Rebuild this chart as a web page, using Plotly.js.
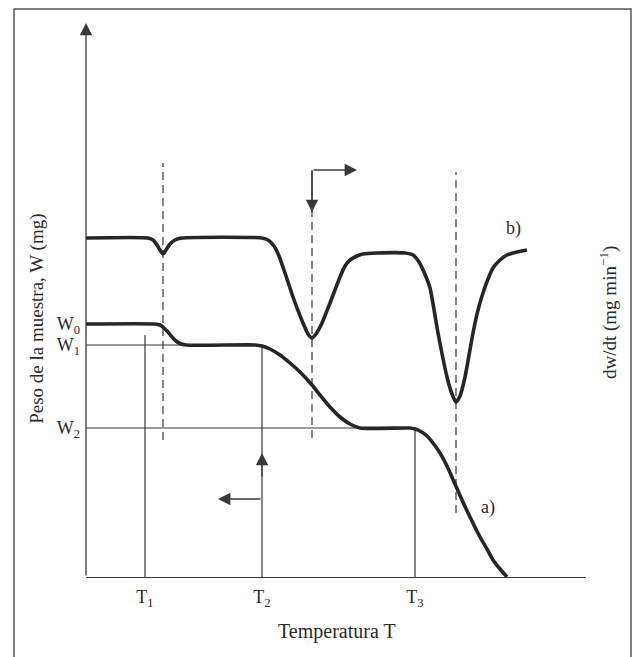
<!DOCTYPE html>
<html>
<head>
<meta charset="utf-8">
<script src="https://cdn.plot.ly/plotly-3.0.1.min.js"></script>
<style>
  html, body { margin: 0; padding: 0; background: #ffffff; }
  #chart { width: 636px; height: 657px; }
</style>
</head>
<body>
<div id="chart"></div>
<script>
// ---- Data (arbitrary units) ----
// Curve a) : sample weight vs temperature (TGA)
const tempA = [0, 13.8, 14.8, 15.6, 16.4, 17.2, 18, 18.8, 20, 33.8, 35.2, 36.8, 38.8, 40.8, 42.8, 45.2, 46.8, 48.8, 50.8, 52.8, 54.8, 64.8, 65.8, 66.8, 68.2, 69.4, 70.8, 72.2, 73.8, 75.2, 76.8, 78.8, 80.2, 81.4, 82.8, 84.2];
const weightA = [50.6, 50.6, 50.4, 49.8, 49, 48, 47.2, 46.7, 46.4, 46.4, 46.2, 45.6, 44.4, 42.8, 41, 38.4, 36.4, 34, 32, 30.6, 29.8, 29.8, 29.6, 29.2, 28.2, 26.8, 24.8, 22.2, 18.6, 15.4, 12, 8, 5.6, 3.4, 1.6, 0];

// Curve b) : derivative dw/dt vs temperature (DTG)
const tempB = [0, 12.4, 13.4, 14.2, 14.8, 15.4, 16, 16.8, 17.8, 19.2, 35.2, 36.4, 37.6, 38.6, 39.6, 41.4, 43.4, 44.4, 45.2, 46, 47.2, 48.8, 50.8, 51.8, 52.8, 54.2, 55.4, 58.2, 63.8, 65.4, 66.6, 67.6, 68.8, 70.4, 72.2, 73.2, 74, 74.8, 75.8, 77.4, 78.4, 79.4, 80.4, 81.4, 82.8, 84.2, 86.2, 88.2];
const dwdtB = [67.8, 67.8, 67.4, 66.4, 65.4, 64.6, 65.4, 66.6, 67.4, 67.8, 67.8, 67.4, 66.2, 64.2, 61.4, 56, 50.8, 48.6, 47.8, 48.6, 50.8, 54.8, 60, 62.2, 63.4, 64.2, 64.6, 64.8, 64.8, 64.4, 63, 61, 57.8, 48.8, 40, 36.6, 35, 36.2, 40, 48.8, 53.4, 56.8, 59.6, 61.8, 63.4, 64.4, 65, 65.4];

// Characteristic temperatures and weights
const tickTemps = [11.8, 35.2, 65.8];
const tickTempLabels = ["T<sub>1</sub>", "T<sub>2</sub>", "T<sub>3</sub>"];
const tickWeights = [50.6, 46.4, 29.8];
const tickWeightLabels = ["W<sub>0</sub>", "W<sub>1</sub>", "W<sub>2</sub>"];
const T1top = 48.4;
// Peak temperatures of the DTG curve (dashed guides) and their extents
const peakTemps = [15.4, 45.2, 74.0];
const peakLow = [27.4, 27.8, 12.8];
const peakHigh = [82.8, 73.0, 81.0];
// Arrow markers (which axis each curve belongs to)
const arrowRightCorner = [45.2, 81.4];
const arrowRightTip = [54.2, 81.4];
const arrowLeftTipY = 24.8;
const arrowLeftBarY = 15.6;
const arrowLeftTipX = 26.4;
const yTop = 110.8;
const yTopRight = 108.6;
const xRightAxis = 100.2;

const ink = "#262626";
const thin = "#383838";
const txt = "#2a2a2a";
const serif = "Liberation Serif, Times New Roman, serif";

const traces = [];
// thin reference lines
traces.push({x: [0, tickTemps[1]], y: [tickWeights[1], tickWeights[1]], mode: "lines", line: {color: thin, width: 1.2}, hoverinfo: "skip"});
traces.push({x: [0, tickTemps[2]], y: [tickWeights[2], tickWeights[2]], mode: "lines", line: {color: thin, width: 1.2}, hoverinfo: "skip"});
traces.push({x: [tickTemps[0], tickTemps[0]], y: [0, T1top], mode: "lines", line: {color: thin, width: 1.2}, hoverinfo: "skip"});
traces.push({x: [tickTemps[1], tickTemps[1]], y: [0, tickWeights[1]], mode: "lines", line: {color: thin, width: 1.2}, hoverinfo: "skip"});
traces.push({x: [tickTemps[2], tickTemps[2]], y: [0, tickWeights[2]], mode: "lines", line: {color: thin, width: 1.2}, hoverinfo: "skip"});
// dashed peak guides
for (let i = 0; i < peakTemps.length; i++) {
  traces.push({x: [peakTemps[i], peakTemps[i]], y: [peakLow[i], peakHigh[i]], mode: "lines",
    line: {color: thin, width: 1.2, dash: "8px,5px"}, hoverinfo: "skip"});
}
// solid part of the L-shaped arrow
traces.push({x: [arrowRightCorner[0], arrowRightCorner[0]], y: [peakHigh[1], arrowRightCorner[1]], mode: "lines", line: {color: thin, width: 1.3}, hoverinfo: "skip"});
// main curves
traces.push({x: tempA, y: weightA, mode: "lines", line: {color: ink, width: 3.6, shape: "spline", smoothing: 0.6}, hoverinfo: "skip"});
traces.push({x: tempB, y: dwdtB, mode: "lines", line: {color: ink, width: 3.6, shape: "spline", smoothing: 0.6}, hoverinfo: "skip"});

function arrow(x, y, ax, ay) {
  return {x: x, y: y, ax: ax, ay: ay, xref: "x", yref: "y", axref: "x", ayref: "y",
    text: "", showarrow: true, arrowhead: 2, arrowsize: 1.9, arrowwidth: 1.3, arrowcolor: thin, standoff: 0};
}

const annotations = [
  arrow(0, yTop, 0, 0),
  arrow(xRightAxis, yTopRight, xRightAxis, 0),
  arrow(arrowRightCorner[0], peakHigh[1], arrowRightCorner[0], arrowRightCorner[1]),
  arrow(arrowRightTip[0], arrowRightTip[1], arrowRightCorner[0], arrowRightCorner[1]),
  arrow(tickTemps[1], arrowLeftTipY, tickTemps[1], arrowLeftTipY - 5),
  arrow(arrowLeftTipX, arrowLeftBarY, tickTemps[1], arrowLeftBarY),
  {x: 80.4, y: 14, xref: "x", yref: "y", text: "a)", showarrow: false, xanchor: "center", yanchor: "middle", font: {family: serif, size: 18, color: txt}},
  {x: 85.4, y: 69.8, xref: "x", yref: "y", text: "b)", showarrow: false, xanchor: "center", yanchor: "middle", font: {family: serif, size: 18, color: txt}},
  {x: 0.502, y: -0.099, xref: "paper", yref: "paper", text: "Temperatura T", showarrow: false, xanchor: "center", yanchor: "middle", font: {family: serif, size: 20, color: txt}},
  {x: -0.098, y: 0.466, xref: "paper", yref: "paper", text: "Peso de la muestra, W (mg)", textangle: -90, showarrow: false, xanchor: "center", yanchor: "middle", font: {family: serif, size: 19, color: txt}},
  {x: 1.044, y: 0.4765, xref: "paper", yref: "paper", text: "dw/dt (mg min<sup>−1</sup>)", textangle: -90, showarrow: false, xanchor: "center", yanchor: "middle", font: {family: serif, size: 19, color: txt}}
];

const layout = {
  width: 636, height: 657,
  margin: {l: 86, r: 50, t: 23, b: 80},
  paper_bgcolor: "#ffffff", plot_bgcolor: "rgba(0,0,0,0)",
  showlegend: false,
  xaxis: {range: [0, 100], showgrid: false, zeroline: false, showline: true, linecolor: thin, linewidth: 1.3,
    tickmode: "array", tickvals: tickTemps, ticktext: tickTempLabels, ticks: "",
    tickfont: {family: serif, size: 18, color: txt}, ticklabelstandoff: 3, fixedrange: true},
  yaxis: {range: [0, yTop], showgrid: false, zeroline: false, showline: false,
    tickmode: "array", tickvals: tickWeights, ticktext: tickWeightLabels, ticks: "",
    tickfont: {family: serif, size: 18, color: txt}, ticklabelstandoff: 5, fixedrange: true},
  annotations: annotations,
  shapes: [
    {type: "rect", xref: "paper", yref: "paper", x0: -0.144, x1: 1.09, y0: -0.16, y1: 1.0253,
      line: {color: "#555", width: 1.5}, fillcolor: "rgba(0,0,0,0)", layer: "below"}
  ]
};

Plotly.newPlot("chart", traces, layout, {staticPlot: true, displayModeBar: false});
</script>
</body>
</html>
